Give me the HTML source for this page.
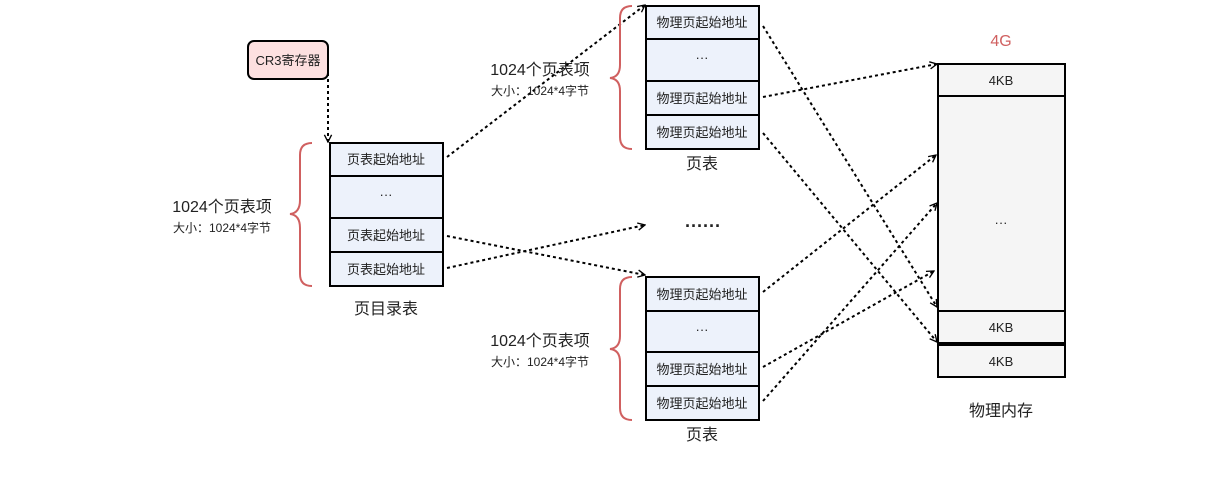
<!DOCTYPE html>
<html><head><meta charset="utf-8"><style>
html,body{margin:0;padding:0;background:#fff;}
svg{display:block;font-family:"Liberation Sans","Noto Sans CJK SC",sans-serif;}
</style></head><body>
<svg width="1222" height="479" viewBox="0 0 1222 479" xmlns="http://www.w3.org/2000/svg">
<defs>
<marker id="a" viewBox="0 0 10 10" refX="9" refY="5" markerWidth="9" markerHeight="9" orient="auto" markerUnits="userSpaceOnUse">
<path d="M1,1 L9,5 L1,9" fill="none" stroke="#000" stroke-width="1.5"/>
</marker>
</defs>
<g stroke="#000" stroke-width="2" stroke-dasharray="3,3" fill="none" marker-end="url(#a)">
<path d="M328,55 L328,142"/>
<path d="M447,157 L645,5"/>
<path d="M447,236 L645,275"/>
<path d="M447,268 L645,225"/>
<path d="M763,26 L937,307"/>
<path d="M763,97 L937,64"/>
<path d="M763,133 L937,342"/>
<path d="M763,292 L936,155"/>
<path d="M763,367 L934,271"/>
<path d="M763,401 L937,203"/>
</g>
<rect x="248" y="41" width="80" height="38" rx="6" fill="#fde0e0" stroke="#000" stroke-width="2"/>
<text x="288" y="65" font-size="13" text-anchor="middle" fill="#222">CR3寄存器</text>

<g stroke="#000" stroke-width="2" fill="#edf2fb">
<rect x="330" y="143" width="113" height="33"/>
<rect x="330" y="176" width="113" height="42"/>
<rect x="330" y="218" width="113" height="34"/>
<rect x="330" y="252" width="113" height="34"/>
<rect x="646" y="6" width="113" height="33"/>
<rect x="646" y="39" width="113" height="42"/>
<rect x="646" y="81" width="113" height="34"/>
<rect x="646" y="115" width="113" height="34"/>
<rect x="646" y="277" width="113" height="34"/>
<rect x="646" y="311" width="113" height="41"/>
<rect x="646" y="352" width="113" height="34"/>
<rect x="646" y="386" width="113" height="34"/>
</g>
<g stroke="#000" stroke-width="2" fill="#f5f5f5">
<rect x="938" y="64" width="127" height="32"/>
<rect x="938" y="96" width="127" height="215"/>
<rect x="938" y="311" width="127" height="32"/>
<rect x="938" y="345" width="127" height="32"/>
</g>
<g font-size="13" text-anchor="middle" fill="#222">
<text x="386" y="164">页表起始地址</text>
<text x="386" y="199">···</text>
<text x="386" y="240">页表起始地址</text>
<text x="386" y="274">页表起始地址</text>
<text x="702" y="27">物理页起始地址</text>
<text x="702" y="62">···</text>
<text x="702" y="103">物理页起始地址</text>
<text x="702" y="137">物理页起始地址</text>
<text x="702" y="299">物理页起始地址</text>
<text x="702" y="334">···</text>
<text x="702" y="374">物理页起始地址</text>
<text x="702" y="408">物理页起始地址</text>
<text x="1001" y="85">4KB</text>
<text x="1001" y="227">···</text>
<text x="1001" y="332">4KB</text>
<text x="1001" y="366">4KB</text>
</g>
<g fill="none" stroke="#d06060" stroke-width="2">
<path d="M312,143 Q300,143 300,155 L300,200 Q300,213 290,214 Q300,215 300,228 L300,274 Q300,286 312,286"/>
<path d="M632,6 Q620,6 620,18 L620,65 Q620,77 610,78 Q620,79 620,91 L620,137 Q620,149 632,149"/>
<path d="M632,277 Q620,277 620,289 L620,336 Q620,348 610,349 Q620,350 620,362 L620,408 Q620,420 632,420"/>
</g>
<g text-anchor="middle" fill="#222">
<text x="222" y="212" font-size="16">1024个页表项</text>
<text x="222" y="232" font-size="12">大小：1024*4字节</text>
<text x="540" y="75" font-size="16">1024个页表项</text>
<text x="540" y="95" font-size="12">大小：1024*4字节</text>
<text x="540" y="346" font-size="16">1024个页表项</text>
<text x="540" y="366" font-size="12">大小：1024*4字节</text>
<text x="386" y="314" font-size="16">页目录表</text>
<text x="702" y="169" font-size="16">页表</text>
<text x="702" y="440" font-size="16">页表</text>
<text x="1001" y="416" font-size="16">物理内存</text>
<text x="1001" y="46" font-size="16" fill="#d06060">4G</text>
<text x="703" y="232" font-size="18" font-weight="bold">······</text>
</g>
</svg>
</body></html>
